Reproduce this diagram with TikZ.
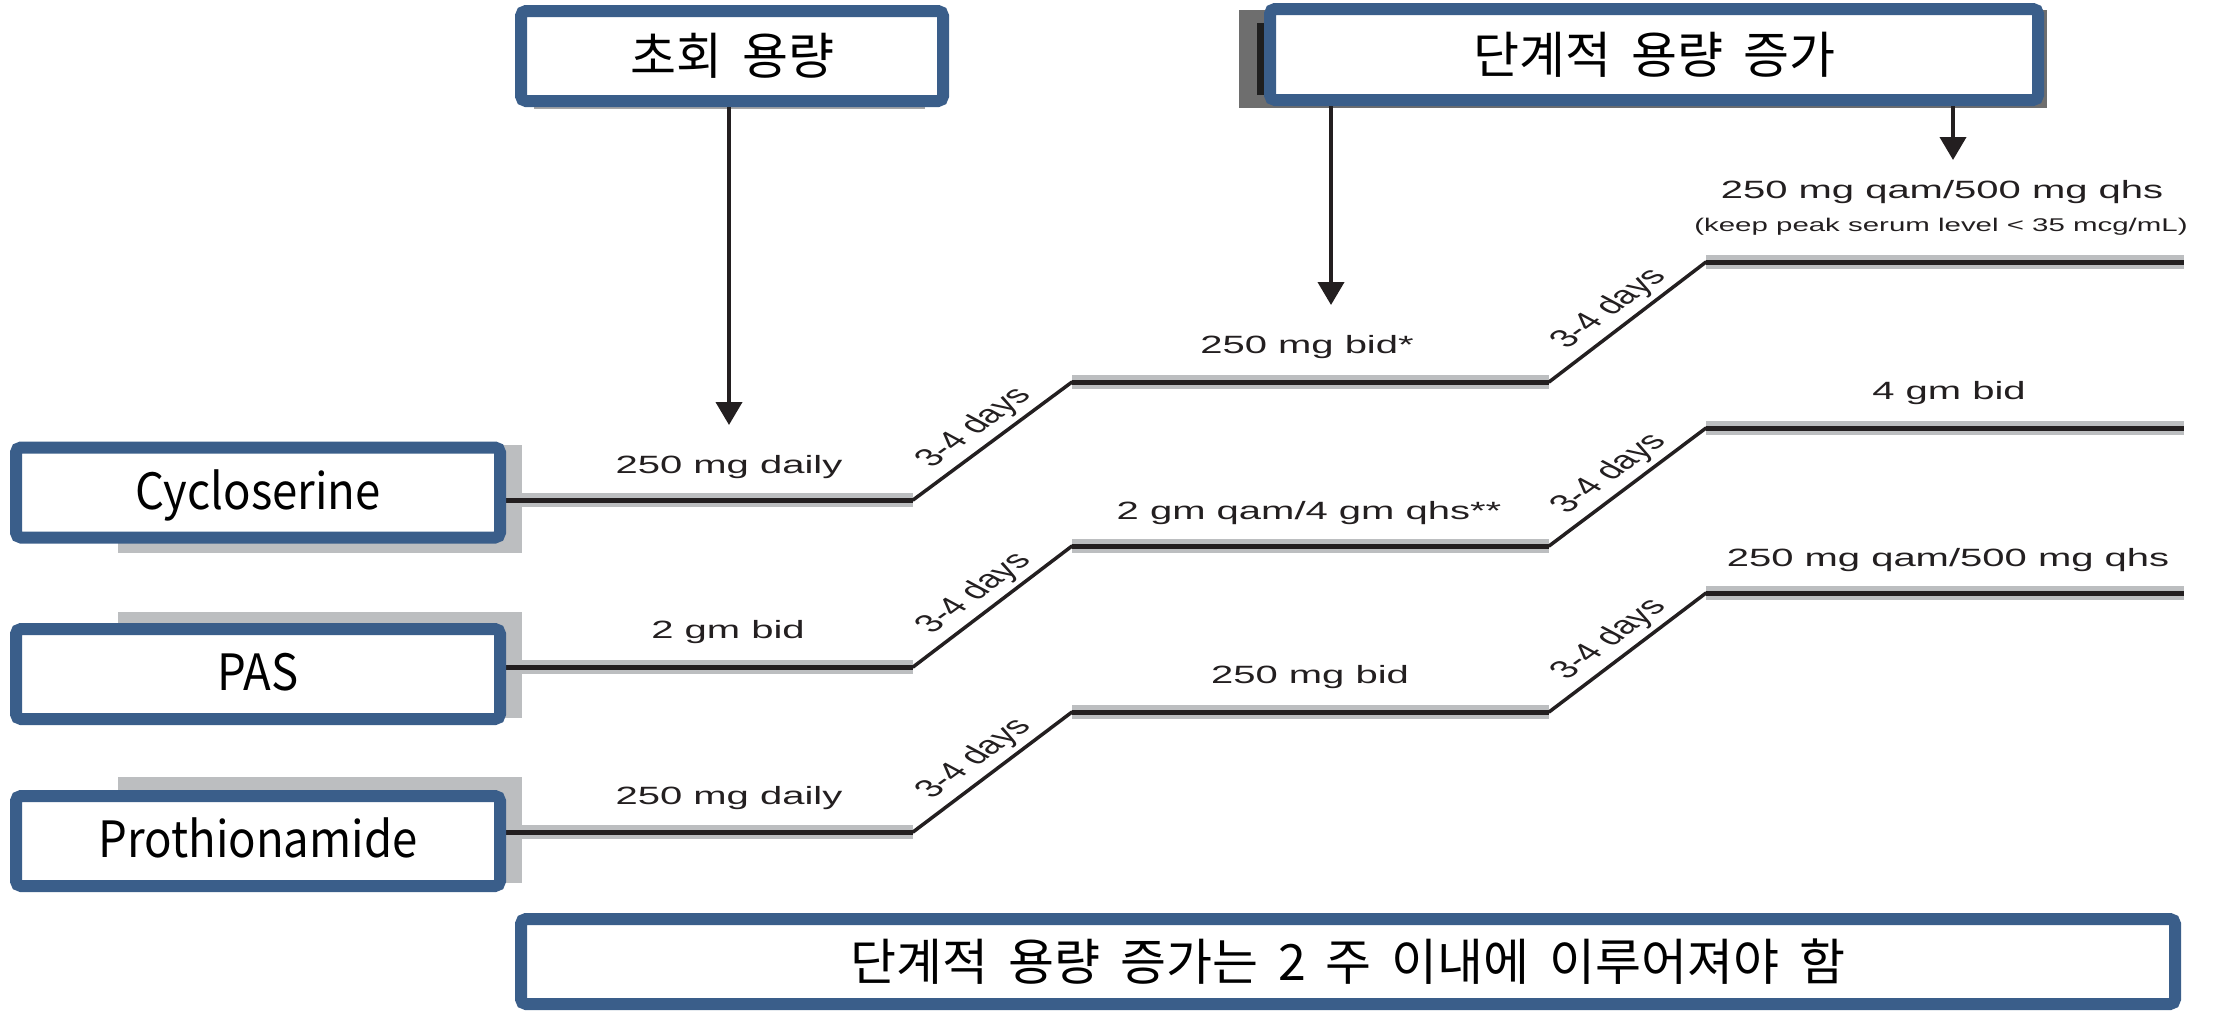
\documentclass[tikz,border=0pt]{standalone}
\usepackage{fontspec}
\setmainfont{Liberation Sans}
\newfontfamily\kr{Noto Sans CJK KR}
\usetikzlibrary{arrows.meta,calc}
\definecolor{boxblue}{HTML}{3A5E8A}
\definecolor{lgray}{HTML}{BCBEC0}
\definecolor{dgray}{HTML}{6E6E6E}
\definecolor{ink}{HTML}{231F20}
\newcommand\krgap{\hspace{20pt}}
\newcommand\dname[1]{\scalebox{0.91}[1]{#1}}
\begin{document}
\begin{tikzpicture}[x=1pt,y=-1pt,
  box/.style={draw=boxblue, line width=12pt, rounded corners=5pt, fill=white, inner sep=0pt, text=black},
  krbox/.style={box, font=\kr\fontsize{50}{54}\selectfont},
  drugbox/.style={box, minimum width=484pt, minimum height=90pt, text height=43pt, text depth=10pt, font=\kr\fontsize{50}{54}\selectfont},
  lbl/.style={font=\fontsize{25}{30}\selectfont, text=ink, xscale=1.6, inner sep=0pt},
  small/.style={font=\fontsize{18.4}{22}\selectfont, text=ink, xscale=1.6, inner sep=0pt},
  days/.style={lbl, rotate=49.3},
  level/.style={line width=5pt, draw=ink},
  rise/.style={line width=3.5pt, draw=ink},
  arr/.style={line width=4pt, draw=ink, -{Triangle[width=26pt,length=23pt]}}
]
\useasboundingbox (0,0) rectangle (2213,1012);

% remnants behind the top-right box
\fill[dgray] (1239,10) rectangle (2047,108);
\draw[line width=7pt, draw=black!88, fill=white] (1260,26) rectangle (1300,91);
\fill[gray!70] (534,102) rectangle (925,109);

% shadows of drug boxes
\fill[lgray] (118,445) rectangle (522,553);
\fill[lgray] (118,612) rectangle (522,718);
\fill[lgray] (118,777) rectangle (522,883);

% timelines
\foreach \n/\ya/\yb/\yc in {cyc/500/382/262, pas/667/546/428, pro/832/712/593}{
  \coordinate (\n0) at (506,\ya);
  \coordinate (\n1) at (913,\ya);
  \coordinate (\n2) at (1072,\yb);
  \coordinate (\n3) at (1549,\yb);
  \coordinate (\n4) at (1706,\yc);
  \coordinate (\n5) at (2184,\yc);
  \fill[lgray] (506,\ya-7) rectangle (913,\ya+7);
  \fill[lgray] (1072,\yb-7) rectangle (1549,\yb+7);
  \fill[lgray] (1706,\yc-7) rectangle (2184,\yc+7);
  \draw[level] (\n0) -- (\n1);
  \draw[level] (\n2) -- (\n3);
  \draw[level] (\n4) -- (\n5);
  \draw[rise, line cap=round] (\n1) -- (\n2);
  \draw[rise, line cap=round] (\n3) -- (\n4);
  \node[days] (\n d1) at ($(\n1)!0.5!(\n2)+(-18,-13)$) {3-4 days};
  \node[days] (\n d2) at ($(\n3)!0.5!(\n4)+(-18,-13)$) {3-4 days};
}

% boxes
\node[krbox, minimum width=422pt, minimum height=90pt] (b1) at (732,56) {초회\krgap 용량};
\node[krbox, minimum width=768pt, minimum height=91pt] (b2) at (1654,54.5) {단계적\krgap 용량\krgap 증가};
\node[drugbox] (cyc) at (258,492.5) {\dname{Cycloserine}};
\node[drugbox] (pas) at (258,674) {\dname{PAS}};
\node[drugbox] (pro) at (258,841) {\dname{Prothionamide}};
\node[krbox, minimum width=1654pt, minimum height=85pt] (note) at (1348,961.5) {단계적\krgap 용량\krgap 증가는\krgap 2\krgap 주\krgap 이내에\krgap 이루어져야\krgap 함};

% arrows
\coordinate (a1) at (729,425);
\coordinate (a2) at (1331,305);
\coordinate (a3) at (1953,160);
\draw[arr] (b1.south -| a1) -- (a1);
\draw[arr] (b2.south -| a2) -- (a2);
\draw[arr] (b2.south -| a3) -- (a3);

% dose labels
\node[lbl] (l1) at (729,467) {250 mg daily};
\node[lbl] (l2) at (728,632) {2 gm bid};
\node[lbl] (l3) at (729,798) {250 mg daily};
\node[lbl] (l4) at (1307,347) {250 mg bid*};
\node[lbl] (l5) at (1309,513) {2 gm qam/4 gm qhs**};
\node[lbl] (l6) at (1310,677) {250 mg bid};
\node[lbl] (l7) at (1942,192) {250 mg qam/500 mg qhs};
\node[small] (l7b) at (1941,227) {(keep peak serum level < 35 mcg/mL)};
\node[lbl] (l8) at (1949,393) {4 gm bid};
\node[lbl] (l9) at (1948,560) {250 mg qam/500 mg qhs};
\end{tikzpicture}
\end{document}
